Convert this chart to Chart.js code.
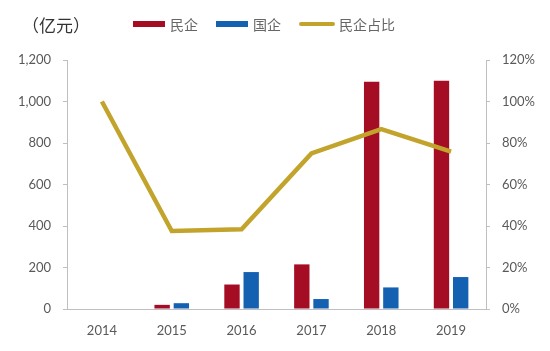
<!DOCTYPE html>
<html><head><meta charset="utf-8">
<script src="https://cdn.jsdelivr.net/npm/chart.js@4/dist/chart.umd.min.js"></script>
<style>
html,body{margin:0;padding:0;background:#fff;}
#wrap{position:relative;width:550px;height:351px;}
#unit{position:absolute;left:22px;top:12px;font:17px "Noto Sans CJK SC",sans-serif;color:#333;}
#legend{position:absolute;left:133px;top:14px;font:14px "Noto Sans CJK SC",sans-serif;color:#666;display:flex;align-items:center;}
#legend .it{display:flex;align-items:center;margin-right:18px;}
#legend .sw{width:32px;height:6px;margin-right:5px;}
#legend .ln{width:36px;height:4px;border-radius:2px;margin-right:4px;}
</style></head>
<body><div id="wrap">
<canvas id="c" width="550" height="351"></canvas>
<div id="unit">（亿元）</div>
<div id="legend">
 <div class="it"><div class="sw" style="background:#A50D25"></div>民企</div>
 <div class="it"><div class="sw" style="background:#1461B2"></div>国企</div>
 <div class="it"><div class="ln" style="background:#C2A42C"></div>民企占比</div>
</div>
</div>
<script>
const categories = ["2014","2015","2016","2017","2018","2019"];
const privateVals = [0, 20, 118, 215, 1095, 1100];
const stateVals = [0, 28, 178, 48, 104, 154];
const privateShare = [100, 37.6, 38.4, 75, 86.7, 75.8];
const leftTicks = [0,200,400,600,800,1000,1200];
const rightTicks = [0,20,40,60,80,100,120];

const tickFont = {family:"Lato, 'Open Sans', sans-serif", size:13};
new Chart(document.getElementById('c'), {
  data: {
    labels: categories,
    datasets: [
      {type:'line', label:'民企占比', data: privateShare, yAxisID:'y1', borderColor:'#C2A42C', backgroundColor:'#C2A42C', borderWidth:4.5, pointRadius:0, tension:0, order:0},
      {type:'bar', label:'民企', data: privateVals, yAxisID:'y', backgroundColor:'#A50D25', categoryPercentage:0.55, barPercentage:0.8, order:1},
      {type:'bar', label:'国企', data: stateVals, yAxisID:'y', backgroundColor:'#1461B2', categoryPercentage:0.55, barPercentage:0.8, order:1}
    ]
  },
  options: {
    responsive:false, animation:false,
    layout:{padding:{top:60,left:0,right:0,bottom:0}},
    plugins:{legend:{display:false}, tooltip:{enabled:false}},
    scales:{
      x:{
        grid:{display:false},
        border:{display:true,color:'#BFBFBF',width:1},
        ticks:{font:tickFont,color:'#595959',padding:6},
        afterFit:s=>{s.height=42;}
      },
      y:{
        position:'left', min:0, max:1200,
        afterBuildTicks:s=>{s.ticks=leftTicks.map(v=>({value:v}));},
        grid:{drawOnChartArea:false,color:'#BFBFBF',tickLength:4},
        border:{display:true,color:'#BFBFBF',width:1},
        ticks:{font:tickFont,color:'#595959',padding:12,callback:v=>v.toLocaleString('en-US')},
        afterFit:s=>{s.width=67;}
      },
      y1:{
        position:'right', min:0, max:120,
        afterBuildTicks:s=>{s.ticks=rightTicks.map(v=>({value:v}));},
        grid:{drawOnChartArea:false,color:'#BFBFBF',tickLength:4},
        border:{display:true,color:'#BFBFBF',width:1},
        ticks:{font:tickFont,color:'#595959',padding:12,callback:v=>v+'%'},
        afterFit:s=>{s.width=64;}
      }
    }
  }
});
</script>
</body></html>
